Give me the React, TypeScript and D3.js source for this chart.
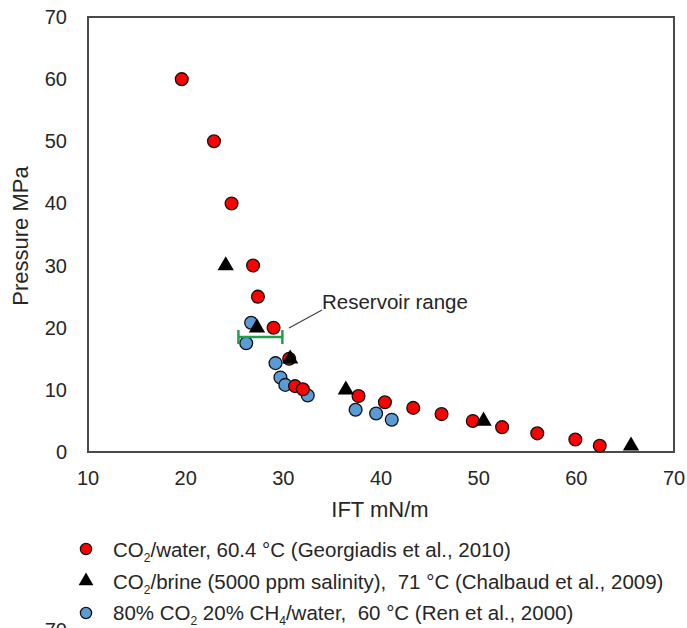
import React from "react";
import * as d3 from "d3";

const W = 687;
const H = 628;

// CO2/water, 60.4 °C (Georgiadis et al., 2010)
const geoIFT = [19.6, 22.9, 24.7, 26.9, 27.4, 29.0, 30.6, 31.2, 32.0, 37.7, 40.4, 43.3, 46.2, 49.4, 52.4, 56.0, 59.9, 62.4];
const geoP = [60, 50, 40, 30, 25, 20, 15, 10.6, 10.1, 9.0, 8.0, 7.1, 6.1, 5.0, 4.0, 3.0, 2.0, 1.0];

// CO2/brine (Chalbaud et al., 2009)
const chalIFT = [24.1, 27.3, 30.7, 36.4, 50.5, 65.6];
const chalP = [30, 20, 15, 10, 5, 1];

// 80% CO2 20% CH4/water (Ren et al., 2000)
const renIFT = [26.7, 26.2, 29.2, 29.7, 30.2, 32.5, 37.4, 39.5, 41.1];
const renP = [20.8, 17.5, 14.3, 12.0, 10.8, 9.1, 6.8, 6.2, 5.2];

const xTicks = [10, 20, 30, 40, 50, 60, 70];
const yTicks = [0, 10, 20, 30, 40, 50, 60, 70];

const reservoirIFT = [25.4, 29.9];
const reservoirP = 18.5;

const legendLabels = [
  "CO2/water, 60.4 °C (Georgiadis et al., 2010)",
  "CO2/brine (5000 ppm salinity),  71 °C (Chalbaud et al., 2009)",
  "80% CO2 20% CH4/water,  60 °C (Ren et al., 2000)",
];

const FONT = "'Liberation Sans', Arial, sans-serif";
const RED = "#ff0000";
const BLUE = "#5b9bd5";
const GREEN = "#1ea04b";
const AXIS = "#4a4a4a";
const TXT = "#262626";

const x = d3.scaleLinear().domain([10, 70]).range([88, 674]);
const y = d3.scaleLinear().domain([0, 70]).range([452, 17]);

const triPath = d3.symbol().type(d3.symbolTriangle).size(115)() as string;
const triLegend = d3.symbol().type(d3.symbolTriangle).size(95)() as string;

function Sub({ t }: { t: string }) {
  return (
    <tspan dy="5" fontSize="12">
      {t}
    </tspan>
  );
}

function LegendText({ idx, xPos, yPos }: { idx: number; xPos: number; yPos: number }) {
  const s = legendLabels[idx];
  let parts: React.ReactNode;
  if (idx < 2) {
    parts = (
      <>
        CO<Sub t="2" />
        <tspan dy="-5">{s.slice(3)}</tspan>
      </>
    );
  } else {
    parts = (
      <>
        80% CO<Sub t="2" />
        <tspan dy="-5"> 20% CH</tspan>
        <Sub t="4" />
        <tspan dy="-5">{s.slice(s.indexOf("/"))}</tspan>
      </>
    );
  }
  return (
    <text x={xPos} y={yPos} fontSize="20.5" fill={TXT} xmlSpace="preserve" style={{ whiteSpace: "pre" }}>
      {parts}
    </text>
  );
}

export default function App() {
  const legendBase = [557, 589, 620];
  return (
    <svg
      width={W}
      height={H}
      style={{ position: "absolute", left: 0, top: 0, background: "#fff" }}
      fontFamily={FONT}
    >
      <rect x={0} y={0} width={W} height={H} fill="#fff" />
      {/* frame */}
      <rect
        x={x(10)}
        y={y(70)}
        width={x(70) - x(10)}
        height={y(0) - y(70)}
        fill="none"
        stroke={AXIS}
        strokeWidth={2}
      />
      {/* ticks */}
      {xTicks.map((t) => (
        <text key={"x" + t} x={x(t)} y={485} fontSize="20" textAnchor="middle" fill={TXT}>
          {t}
        </text>
      ))}
      {yTicks.map((t) => (
        <text key={"y" + t} x={67} y={y(t) + 7} fontSize="20" textAnchor="end" fill={TXT}>
          {t}
        </text>
      ))}
      <text x={380} y={517} fontSize="22" textAnchor="middle" fill={TXT}>
        IFT mN/m
      </text>
      <text transform={`translate(28,${236}) rotate(-90)`} fontSize="22" textAnchor="middle" fill={TXT}>
        Pressure MPa
      </text>

      {/* Ren (blue) */}
      {renIFT.map((v, i) => (
        <circle key={"b" + i} cx={x(v)} cy={y(renP[i])} r={6.4} fill={BLUE} stroke="#111" strokeWidth={1.3} />
      ))}
      {/* Georgiadis (red) */}
      {geoIFT.map((v, i) => (
        <circle key={"r" + i} cx={x(v)} cy={y(geoP[i])} r={6.4} fill={RED} stroke="#111" strokeWidth={1.3} />
      ))}
      {/* Chalbaud (triangles) */}
      {chalIFT.map((v, i) => (
        <path key={"t" + i} d={triPath} transform={`translate(${x(v)},${y(chalP[i])})`} fill="#000" />
      ))}

      {/* reservoir range */}
      <g stroke={GREEN} strokeWidth={2.5} fill="none">
        <line x1={x(reservoirIFT[0])} x2={x(reservoirIFT[1])} y1={y(reservoirP)} y2={y(reservoirP)} />
        <line x1={x(reservoirIFT[0])} x2={x(reservoirIFT[0])} y1={y(reservoirP) - 7} y2={y(reservoirP) + 7} />
        <line x1={x(reservoirIFT[1])} x2={x(reservoirIFT[1])} y1={y(reservoirP) - 7} y2={y(reservoirP) + 7} />
      </g>
      <line x1={289} y1={328} x2={322} y2={310} stroke="#444" strokeWidth={1.3} />
      <text x={322} y={309} fontSize="20.5" fill={TXT}>
        Reservoir range
      </text>

      {/* legend */}
      <circle cx={86} cy={549} r={5.6} fill={RED} stroke="#111" strokeWidth={1.3} />
      <path d={triLegend} transform={`translate(86,581)`} fill="#000" />
      <circle cx={86} cy={613} r={5.6} fill={BLUE} stroke="#111" strokeWidth={1.3} />
      {legendLabels.map((_, i) => (
        <LegendText key={i} idx={i} xPos={113} yPos={legendBase[i]} />
      ))}
      {/* cut-off label from the panel below */}
      <text x={67} y={637} fontSize="20" textAnchor="end" fill={TXT}>
        70
      </text>
    </svg>
  );
}
